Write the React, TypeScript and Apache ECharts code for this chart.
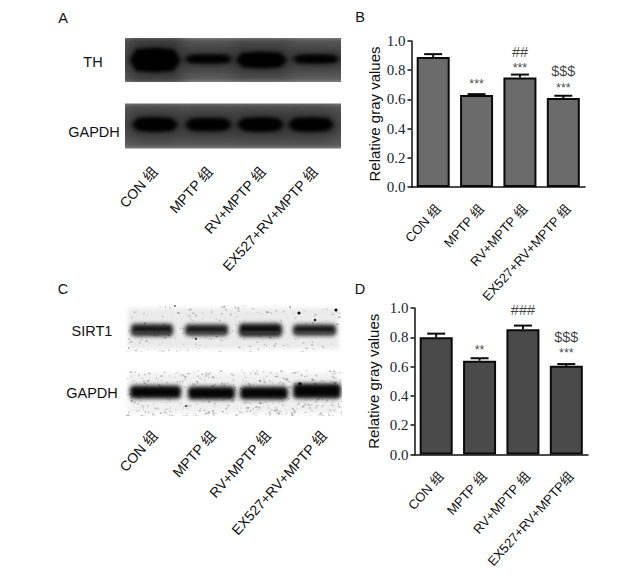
import React, { useEffect, useRef } from "react";
import * as echarts from "echarts";

const categoriesB = ["CON 组", "MPTP 组", "RV+MPTP 组", "EX527+RV+MPTP 组"];
const categoriesD = ["CON 组", "MPTP 组", "RV+MPTP 组", "EX527+RV+MPTP组"];
const valuesB = [0.89, 0.63, 0.75, 0.61];
const errorTopsB = [0.91, 0.636, 0.77, 0.625];
const valuesD = [0.8, 0.64, 0.855, 0.605];
const errorTopsD = [0.825, 0.657, 0.88, 0.617];
const marksB: [number, number, string][] = [
  [1, 0.705, "***"],
  [2, 0.815, "***"],
  [2, 0.925, "##"],
  [3, 0.68, "***"],
  [3, 0.795, "$$$"],
];
const marksD: [number, number, string][] = [
  [1, 0.715, "**"],
  [2, 0.985, "###"],
  [3, 0.69, "***"],
  [3, 0.8, "$$$"],
];
const yTicks = { min: 0, max: 1, interval: 0.2 };
const SANS = '"Liberation Sans", Arial, "Noto Sans CJK SC", sans-serif';
const SERIF = '"Liberation Serif", "Times New Roman", serif';

type Band = { x: number; w: number; y: number; h: number; a: number };

function rng(seed: number) {
  let s = seed;
  return () => {
    s = (s * 1664525 + 1013904223) % 4294967296;
    return s / 4294967296;
  };
}

function darkBlot(w: number, h: number, bands: Band[], edge: number) {
  const c = document.createElement("canvas");
  c.width = w;
  c.height = h;
  const g = c.getContext("2d")!;
  const gr = g.createLinearGradient(0, 0, 0, h);
  gr.addColorStop(0, "#7a7a7a");
  gr.addColorStop(0.08, "#595959");
  gr.addColorStop(0.5, "#484848");
  gr.addColorStop(0.92, "#5f5f5f");
  gr.addColorStop(1, "#808080");
  g.fillStyle = gr;
  g.fillRect(0, 0, w, h);
  g.filter = "blur(7px)";
  g.fillStyle = "rgba(35,35,35,0.6)";
  bands.forEach((b) => g.fillRect(b.x - 2, b.y - b.h - edge, b.w + 4, b.h * 2 + edge * 2));
  g.filter = "blur(2.2px)";
  bands.forEach((b) => {
    g.fillStyle = `rgba(0,0,0,${b.a})`;
    g.beginPath();
    g.ellipse(b.x + b.w / 2, b.y, b.w / 2, b.h / 2, 0, 0, Math.PI * 2);
    g.fill();
    g.fillRect(b.x + 5, b.y - b.h / 2 + 1, b.w - 10, b.h - 2);
  });
  return c.toDataURL();
}

function lightBlot(
  w: number,
  h: number,
  bands: Band[],
  seed: number,
  speck: number,
  bg: string,
  soft: boolean,
  dots: [number, number, number][],
) {
  const c = document.createElement("canvas");
  c.width = w;
  c.height = h;
  const g = c.getContext("2d")!;
  g.fillStyle = "#ffffff";
  g.fillRect(0, 0, w, h);
  g.fillStyle = bg;
  g.filter = "blur(2px)";
  g.fillRect(3, 3, w - 6, h - 6);
  const r = rng(seed);
  g.filter = "blur(0.7px)";
  for (let i = 0; i < speck; i++) {
    const v = 100 + Math.floor(r() * 110);
    g.fillStyle = `rgba(${v},${v},${v},${0.25 + r() * 0.4})`;
    g.fillRect(r() * w, r() * h, 0.8 + r() * 1.8, 0.8 + r() * 1.3);
  }
  g.filter = "blur(2px)";
  bands.forEach((b) => {
    g.fillStyle = `rgba(5,5,5,${b.a})`;
    g.beginPath();
    g.roundRect(b.x, b.y - b.h / 2, b.w, b.h, 4);
    g.fill();
  });
  if (soft) {
    g.filter = "blur(1.2px)";
    g.fillStyle = "rgba(130,130,130,0.4)";
    bands.forEach((b) => g.fillRect(b.x + 3, b.y + 1, b.w - 6, 2.5));
  }
  g.filter = "blur(0.4px)";
  g.fillStyle = "#111";
  dots.forEach((d) => {
    g.beginPath();
    g.arc(d[0], d[1], d[2], 0, Math.PI * 2);
    g.fill();
  });
  g.filter = "none";
  return c.toDataURL();
}

function blotImage(src: string, x: number, y: number, width: number, height: number) {
  return { type: "image", silent: true, style: { image: src, x, y, width, height } };
}

function txt(text: string, x: number, y: number, size = 14.5) {
  return {
    type: "text",
    x,
    y,
    style: { text, fontFamily: SANS, fontSize: size, fill: "#111", align: "center", verticalAlign: "middle" },
  };
}

function slanted(text: string, x: number, y: number) {
  return {
    type: "text",
    x,
    y,
    rotation: (48 * Math.PI) / 180,
    style: { text, fontFamily: SANS, fontSize: 14, fill: "#111", align: "right", verticalAlign: "middle" },
  };
}

function errorBars(tops: number[], vals: number[], gridIndex: number) {
  return {
    type: "custom",
    xAxisIndex: gridIndex,
    yAxisIndex: gridIndex,
    silent: true,
    z: 1,
    data: tops.map((t, i) => [i, vals[i], t]),
    renderItem: (_p: any, api: any) => {
      const base = api.coord([api.value(0), api.value(1)]);
      const top = api.coord([api.value(0), api.value(2)]);
      const style = { stroke: "#0a0a0a", lineWidth: 2, fill: "none" };
      return {
        type: "group",
        children: [
          { type: "line", shape: { x1: base[0], y1: base[1], x2: top[0], y2: top[1] }, style },
          { type: "line", shape: { x1: top[0] - 9, y1: top[1], x2: top[0] + 9, y2: top[1] }, style },
        ],
      };
    },
  };
}

function marks(list: [number, number, string][], gridIndex: number) {
  return {
    type: "scatter",
    xAxisIndex: gridIndex,
    yAxisIndex: gridIndex,
    symbolSize: 0,
    silent: true,
    data: list.map((m) => ({
      value: [m[0], m[1]],
      label: {
        show: true,
        position: "inside",
        formatter: m[2],
        fontFamily: SANS,
        fontSize: m[2].includes("*") ? 12.5 : 14.5,
        color: "#111",
      },
    })),
  };
}

function xAxis(cats: string[], gridIndex: number) {
  return {
    type: "category",
    gridIndex,
    data: cats,
    axisLine: { lineStyle: { color: "#111", width: 1.5 } },
    axisTick: { alignWithLabel: true, length: 4, lineStyle: { color: "#111", width: 1.5 } },
    axisLabel: {
      rotate: 48,
      interval: 0,
      fontFamily: SANS,
      fontSize: 13,
      color: "#111",
      margin: 15,
      verticalAlign: "top",
    },
  };
}

function yAxis(gridIndex: number, gap: number) {
  return {
    type: "value",
    gridIndex,
    ...yTicks,
    name: "Relative gray values",
    nameLocation: "middle",
    nameGap: gap,
    nameTextStyle: { fontFamily: SANS, fontSize: 15, color: "#111" },
    splitLine: { show: false },
    axisLine: { show: true, lineStyle: { color: "#111", width: 1.5 } },
    axisTick: { show: true, length: 4, lineStyle: { color: "#111", width: 1.5 } },
    axisLabel: { fontFamily: SERIF, fontSize: 15, color: "#1c2433", margin: 6, formatter: (v: number) => v.toFixed(1) },
  };
}

function bars(vals: number[], color: string, gridIndex: number) {
  return {
    type: "bar",
    xAxisIndex: gridIndex,
    yAxisIndex: gridIndex,
    data: vals,
    barWidth: 33,
    z: 2,
    itemStyle: { color, borderColor: "#0a0a0a", borderWidth: 2 },
  };
}

export default function App() {
  const ref = useRef<HTMLDivElement>(null);
  useEffect(() => {
    document.body.style.margin = "0";
    document.body.style.background = "#fff";
    const chart = echarts.init(ref.current!, undefined, { renderer: "svg" });

    const thBlot = darkBlot(216, 44, [
      { x: 5, w: 50, y: 22, h: 23, a: 1 },
      { x: 59, w: 49, y: 21, h: 8, a: 0.95 },
      { x: 111, w: 51, y: 22, h: 15, a: 1 },
      { x: 167, w: 48, y: 21, h: 8, a: 0.95 },
    ], 2);
    const gapA = darkBlot(216, 45, [
      { x: 7, w: 46, y: 21, h: 13, a: 1 },
      { x: 60, w: 47, y: 21, h: 12, a: 1 },
      { x: 112, w: 47, y: 21, h: 13, a: 1 },
      { x: 163, w: 46, y: 21, h: 13, a: 1 },
    ], 2);
    const sirt = lightBlot(217, 47, [
      { x: 6, w: 42, y: 25, h: 12, a: 0.92 },
      { x: 60, w: 43, y: 25, h: 11, a: 0.92 },
      { x: 114, w: 43, y: 25, h: 13, a: 0.97 },
      { x: 168, w: 43, y: 25, h: 11, a: 0.92 },
    ], 7, 220, "#ebebeb", true, [
      [50, 1, 0.8],
      [174, 8, 1.6],
      [211, 5, 1.6],
      [190, 15, 1.2],
      [71, 34, 0.9],
    ]);
    const gapC = lightBlot(217, 46, [
      { x: 5, w: 51, y: 22, h: 13, a: 1 },
      { x: 63, w: 47, y: 23, h: 13, a: 1 },
      { x: 115, w: 48, y: 23, h: 13, a: 1 },
      { x: 168, w: 48, y: 21, h: 15, a: 1 },
    ], 11, 520, "#f0f0f0", false, [
      [61, 36, 0.9],
      [175, 14, 1.8],
    ]);

    chart.setOption({
      animation: false,
      backgroundColor: "#ffffff",
      grid: [
        { left: 411.5, top: 41, width: 173.5, height: 146, containLabel: false },
        { left: 414.5, top: 308, width: 173.5, height: 146.5, containLabel: false },
      ],
      xAxis: [xAxis(categoriesB, 0), xAxis(categoriesD, 1)],
      yAxis: [yAxis(0, 30), yAxis(1, 34)],
      series: [
        errorBars(errorTopsB, valuesB, 0),
        bars(valuesB, "#6b6b6b", 0),
        marks(marksB, 0),
        errorBars(errorTopsD, valuesD, 1),
        bars(valuesD, "#4a4a4a", 1),
        marks(marksD, 1),
      ],
      graphic: [
        blotImage(thBlot, 125, 38, 216, 44),
        blotImage(gapA, 125, 103, 216, 46),
        blotImage(sirt, 125, 305, 217, 47),
        blotImage(gapC, 125, 370, 217, 46),
        txt("A", 63, 18),
        txt("B", 360, 17),
        txt("C", 63, 289),
        txt("D", 360, 289),
        txt("TH", 93, 62),
        txt("GAPDH", 94, 132),
        txt("SIRT1", 92, 331),
        txt("GAPDH", 92, 393),
        slanted(categoriesB[0], 155, 169),
        slanted(categoriesB[1], 210, 169),
        slanted(categoriesB[2], 263, 169),
        slanted(categoriesB[3], 315, 169),
        slanted(categoriesB[0], 155, 433),
        slanted(categoriesB[1], 213, 433),
        slanted(categoriesB[2], 268, 433),
        slanted(categoriesB[3], 324, 433),
      ],
    });
    return () => chart.dispose();
  }, []);
  return <div ref={ref} style={{ width: 624, height: 578 }} />;
}
